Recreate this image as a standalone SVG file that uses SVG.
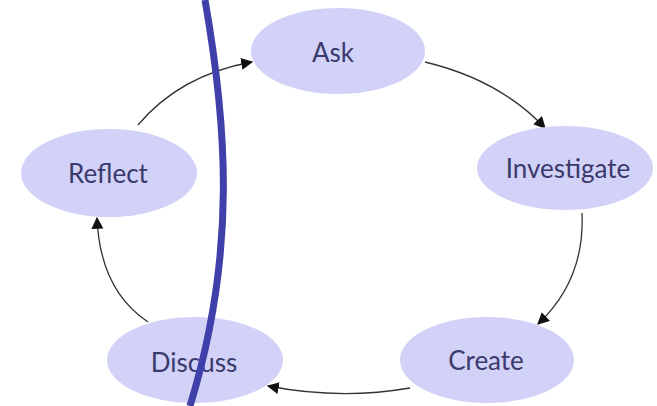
<svg xmlns="http://www.w3.org/2000/svg" width="657" height="406" viewBox="0 0 657 406">
<style>
.n{fill:#d2d2f8;stroke:none}
.t{font-family:Lato,"Liberation Sans",sans-serif;font-size:26px;fill:#3a3a6c;text-anchor:middle;dominant-baseline:central}
.c{fill:none;stroke:#333;stroke-width:1.3;marker-end:url(#ah)}
</style>
<defs>
<marker id="ah" viewBox="0 0 10 10" refX="9" refY="5" markerWidth="12" markerHeight="12" markerUnits="userSpaceOnUse" orient="auto">
<path d="M0,0 L10,5 L0,10 z" fill="#111"/>
</marker>
</defs>
<rect width="657" height="406" fill="#fff"/>
<g id="connectors">
<path class="c" d="M138,125 Q180,75 252,62"/>
<path class="c" d="M425,62 Q500,80 545,128"/>
<path class="c" d="M582,213 Q585,280 538,324"/>
<path class="c" d="M410,388 Q340,400 268,386"/>
<path class="c" d="M148,322 Q100,290 97,218"/>
</g>
<g id="ask"><ellipse class="n" cx="338" cy="51" rx="87" ry="43"/><text class="t" x="333" y="52">Ask</text></g>
<g id="investigate"><ellipse class="n" cx="565" cy="168" rx="88" ry="42"/><text class="t" x="568" y="168">Investigate</text></g>
<g id="create"><ellipse class="n" cx="487" cy="360" rx="87" ry="43"/><text class="t" x="486" y="360">Create</text></g>
<g id="discuss"><ellipse class="n" cx="195" cy="360" rx="88" ry="43"/><text class="t" x="194" y="362">Discuss</text></g>
<g id="reflect"><ellipse class="n" cx="109" cy="173" rx="88" ry="44"/><text class="t" x="108" y="173">Reflect</text></g>
<path d="M205,0 C226,120 238,250 190,406" fill="none" stroke="#4040aa" stroke-width="7"/>
</svg>
